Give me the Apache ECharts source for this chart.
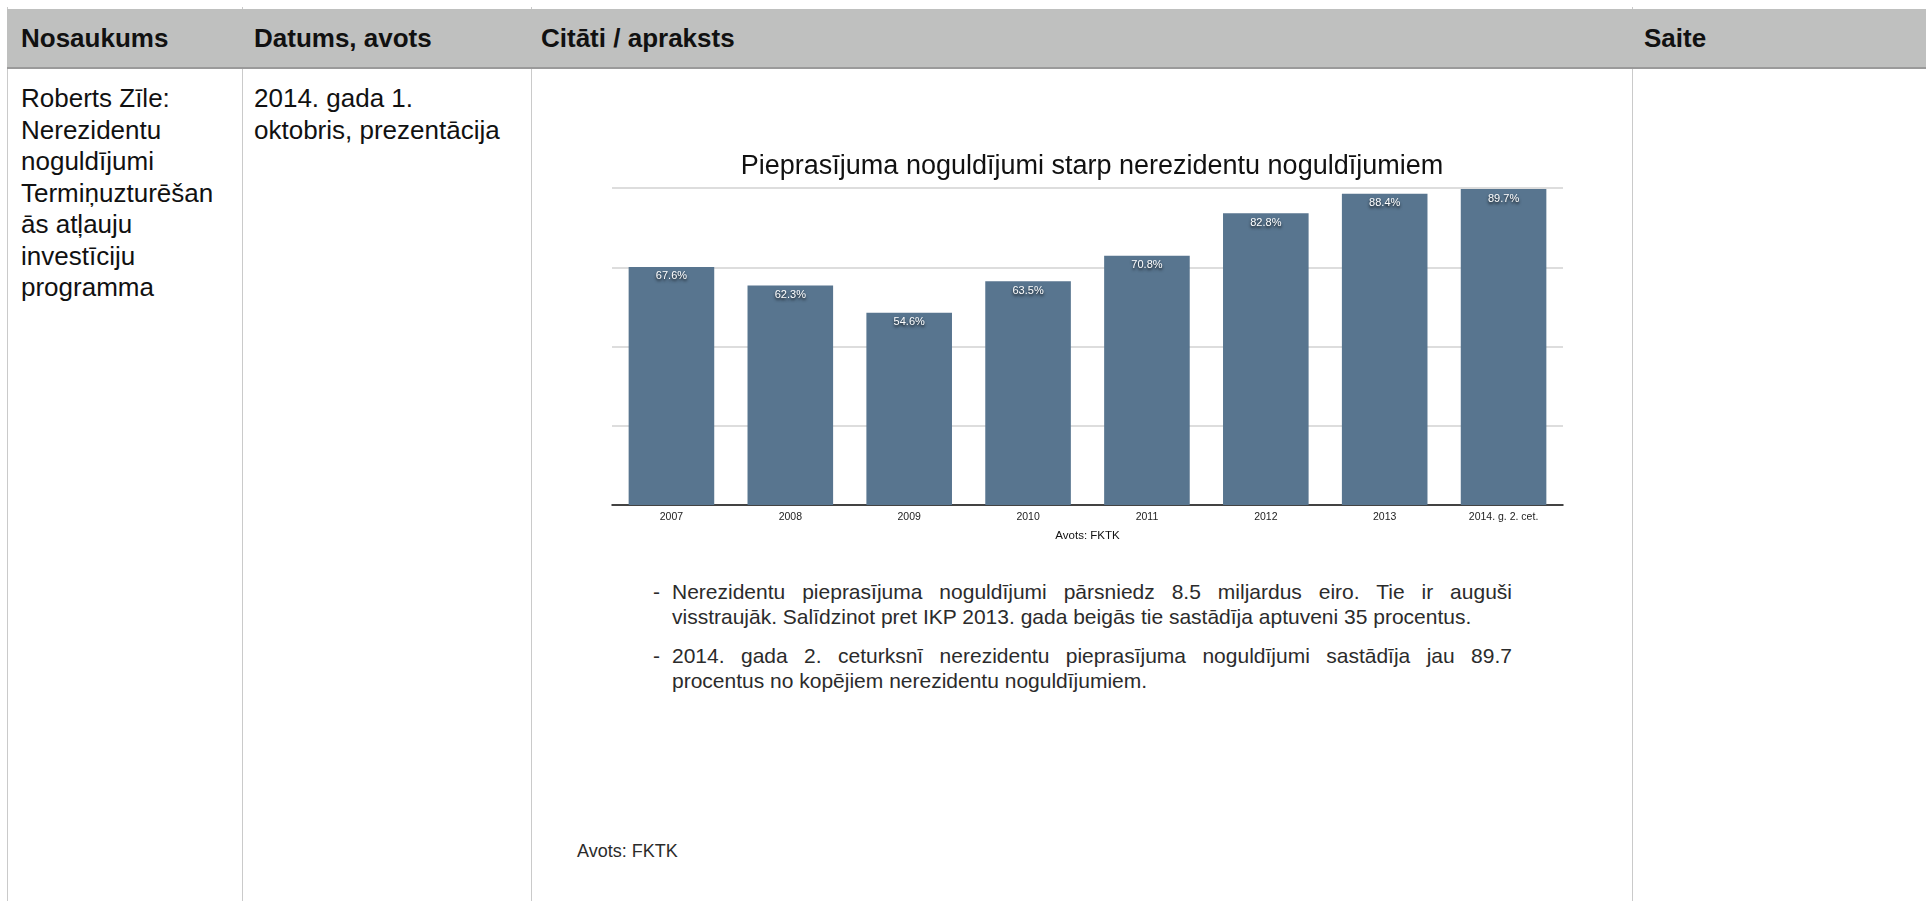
<!DOCTYPE html>
<html>
<head>
<meta charset="utf-8">
<script src="https://cdn.jsdelivr.net/npm/echarts@6/dist/echarts.min.js"></script>
<style>
    html, body { margin: 0; padding: 0; background: #fff; }
    body { width: 1926px; height: 901px; position: relative; overflow: hidden;
           font-family: 'Liberation Sans', Arial, sans-serif; color: #111; }
    .vline { position: absolute; top: 7px; bottom: 0; width: 1px; background: #cacaca; }
    .head { position: absolute; left: 7px; right: 0; top: 9px; height: 58px;
            background: #bfc0bf; border-bottom: 2px solid #9a9a9a; }
    .head div { position: absolute; top: 0; line-height: 58px; font-size: 26px; font-weight: bold; color: #111; }
    .cell { position: absolute; top: 83px; font-size: 26px; line-height: 31.5px; color: #111; white-space: nowrap; }
    .bullets { position: absolute; left: 672px; width: 840px; font-size: 21px; line-height: 25px; color: #2b2b2b; }
    .bullets .ln { white-space: nowrap; }
    .bullets .just { text-align: justify; text-align-last: justify; white-space: normal; }
    .bullets .dash { position: absolute; left: -19px; top: 0; }
    #chart { position: absolute; left: 0; top: 0; width: 1926px; height: 901px; }
</style>
</head>
<body>
<div class="vline" style="left:7px"></div>
<div class="vline" style="left:242px"></div>
<div class="vline" style="left:531px"></div>
<div class="vline" style="left:1632px"></div>

<div class="head">
    <div style="left:14px">Nosaukums</div>
    <div style="left:247px">Datums, avots</div>
    <div style="left:534px">Citāti / apraksts</div>
    <div style="left:1637px">Saite</div>
</div>

<div id="col1" class="cell" style="left:21px"></div>
<div id="col2" class="cell" style="left:254px"></div>

<div id="b1" class="bullets" style="top:579px"></div>
<div id="b2" class="bullets" style="top:643px"></div>
<div style="position:absolute; left:577px; top:840px; font-size:18px; line-height:22px; color:#2b2b2b;">Avots: FKTK</div>

<div id="chart"></div>

<script>
// dati no attēla
const years = ['2007', '2008', '2009', '2010', '2011', '2012', '2013', '2014. g. 2. cet.']
const demandShare = [67.6, 62.3, 54.6, 63.5, 70.8, 82.8, 88.4, 89.7]

const chartTitle = 'Pieprasījuma noguldījumi starp nerezidentu noguldījumiem'
const sourceText = 'Avots: FKTK'

const nameLines = ['Roberts Zīle:', 'Nerezidentu', 'noguldījumi', 'Termiņuzturēšan', 'ās atļauju', 'investīciju', 'programma']
const dateLines = ['2014. gada 1.', 'oktobris, prezentācija']

const bullet1 = [
    'Nerezidentu pieprasījuma noguldījumi pārsniedz 8.5 miljardus eiro. Tie ir auguši',
    'visstraujāk. Salīdzinot pret IKP 2013. gada beigās tie sastādīja aptuveni 35 procentus.'
]
const bullet2 = [
    '2014. gada 2. ceturksnī nerezidentu pieprasījuma noguldījumi sastādīja jau 89.7',
    'procentus no kopējiem nerezidentu noguldījumiem.'
]

function fillLines (id, lines) {
    const el = document.getElementById(id)
    lines.forEach(function (t) {
        const d = document.createElement('div')
        d.textContent = t
        el.appendChild(d)
    })
}

// justified lines, last line left
function fillBullet (id, lines) {
    const el = document.getElementById(id)
    const dash = document.createElement('span')
    dash.className = 'dash'
    dash.textContent = '-'
    el.appendChild(dash)
    lines.forEach(function (t, i) {
        const d = document.createElement('div')
        d.className = i < lines.length - 1 ? 'ln just' : 'ln'
        d.textContent = t
        el.appendChild(d)
    })
}

fillLines('col1', nameLines)
fillLines('col2', dateLines)
fillBullet('b1', bullet1)
fillBullet('b2', bullet2)

const myChart = echarts.init(document.getElementById('chart'), null, { renderer: 'canvas' })

let option = {
    animation: false,
    textStyle: { fontFamily: "'Liberation Sans', Arial, sans-serif" },
    title: {
        text: chartTitle,
        left: 1087,
        top: 148,
        textAlign: 'center',
        textStyle: {
            fontSize: 27,
            fontWeight: 'normal',
            color: '#111'
        }
    },
    grid: {
        left: 612,
        right: 363,
        top: 188,
        bottom: 396,
        containLabel: false
    },
    xAxis: {
        type: 'category',
        data: years,
        name: sourceText,
        nameLocation: 'middle',
        nameGap: 25,
        nameTextStyle: { fontSize: 11.5, color: '#111' },
        axisLine: { show: true, lineStyle: { color: '#111', width: 1.5 } },
        axisTick: { show: false },
        axisLabel: { interval: 0, fontSize: 10.5, color: '#222', margin: 7 }
    },
    yAxis: {
        type: 'value',
        min: 0,
        max: 90,
        interval: 22.5,
        axisLine: { show: false },
        axisTick: { show: false },
        axisLabel: { show: false },
        splitLine: {
            show: true,
            lineStyle: { color: '#d2d2d2', width: 1.5 }
        }
    },
    series: [
        {
            type: 'bar',
            data: demandShare,
            barCategoryGap: '28%',
            itemStyle: { color: '#58758f' },
            label: {
                show: true,
                position: 'insideTop',
                distance: 4,
                fontSize: 11,
                color: '#fff',
                textShadowColor: 'rgba(0,0,0,0.85)',
                textShadowBlur: 3,
                textShadowOffsetY: 2,
                formatter: function (p) {
                    return p.value.toFixed(1) + '%'
                }
            }
        }
    ]
}
option && myChart.setOption(option)
</script>
</body>
</html>
